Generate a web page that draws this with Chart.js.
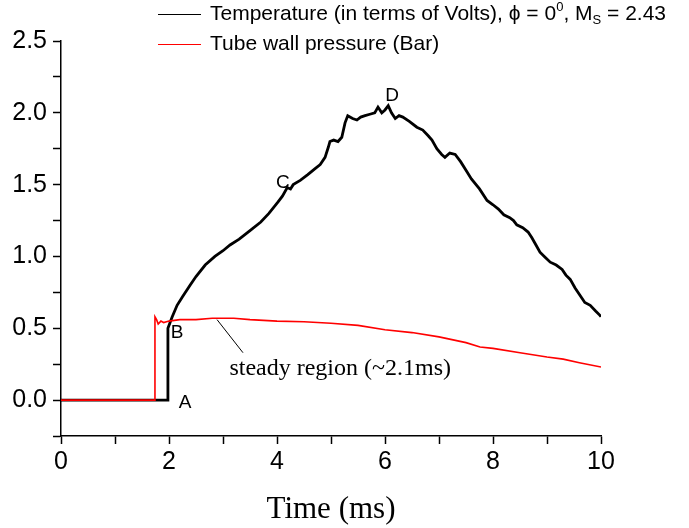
<!DOCTYPE html>
<html>
<head>
<meta charset="utf-8">
<script src="https://cdn.jsdelivr.net/npm/chart.js@4/dist/chart.umd.min.js"></script>
<style>
  html, body { margin: 0; padding: 0; background: #fff; }
  #wrap { width: 689px; height: 528px; }
</style>
</head>
<body>
<div id="wrap"><canvas id="shock" width="689" height="528"></canvas></div>
<script>
// temperature signal (in volts)
const tempTime = [0, 1.98, 1.98, 2.02, 2.06, 2.15, 2.25, 2.39, 2.5, 2.67, 2.85, 3.0, 3.13, 3.3, 3.5, 3.7, 3.85,
  4.02, 4.1, 4.19, 4.25, 4.3, 4.43, 4.57, 4.7, 4.8, 4.89, 4.95, 4.98, 5.05, 5.13, 5.2, 5.26, 5.31, 5.4, 5.48,
  5.55, 5.63, 5.72, 5.81, 5.87, 5.94, 6.0, 6.06, 6.12, 6.19, 6.26, 6.33, 6.45, 6.59, 6.7, 6.8, 6.87, 6.96,
  7.05, 7.11, 7.2, 7.3, 7.4, 7.5, 7.6, 7.75, 7.89, 8.0, 8.1, 8.2, 8.31, 8.38, 8.44, 8.55, 8.65, 8.72, 8.78,
  8.87, 8.95, 9.06, 9.17, 9.28, 9.35, 9.43, 9.52, 9.61, 9.7, 9.8, 9.9, 9.98, 10];
const tempVolts = [0, 0, 0.5, 0.54, 0.58, 0.66, 0.72, 0.8, 0.86, 0.94, 1.0, 1.04, 1.08, 1.12, 1.18, 1.24, 1.3,
  1.38, 1.42, 1.48, 1.47, 1.5, 1.53, 1.57, 1.61, 1.64, 1.69, 1.76, 1.8, 1.81, 1.8, 1.83, 1.93, 1.98, 1.96, 1.95,
  1.97, 1.98, 1.99, 2.0, 2.04, 2.0, 2.02, 2.05, 2.0, 1.96, 1.98, 1.97, 1.94, 1.9, 1.88, 1.84, 1.81, 1.75,
  1.71, 1.69, 1.72, 1.71, 1.66, 1.6, 1.54, 1.47, 1.39, 1.36, 1.33, 1.29, 1.27, 1.25, 1.22, 1.2, 1.17, 1.13, 1.09,
  1.03, 1.0, 0.96, 0.94, 0.91, 0.87, 0.84, 0.78, 0.73, 0.68, 0.66, 0.62, 0.59, 0.58];

// tube wall pressure (bar)
const presTime = [0, 1.74, 1.74, 1.77, 1.8, 1.85, 1.9, 2.0, 2.2, 2.5, 2.8, 3.0, 3.2, 3.5, 4.0, 4.5, 5.0, 5.5,
  6.0, 6.5, 7.0, 7.5, 7.76, 8.0, 8.5, 9.0, 9.3, 9.6, 10];
const presBar = [0, 0, 0.58, 0.56, 0.53, 0.55, 0.54, 0.55, 0.56, 0.56, 0.57, 0.57, 0.57, 0.56, 0.55, 0.545, 0.535, 0.52,
  0.49, 0.47, 0.44, 0.40, 0.37, 0.36, 0.33, 0.30, 0.285, 0.26, 0.23];

// point labels [text, time, value]
const markLabels = [["A", 2.3, -0.02], ["B", 2.15, 0.47], ["C", 4.11, 1.51], ["D", 6.13, 2.12]];
const steadyNote = { text: "steady region (~2.1ms)", x: 5.17, y: 0.22, from: [2.89, 0.56], to: [3.37, 0.33] };

const tickFont = { family: "'Liberation Sans', Arial, sans-serif", size: 25 };
const sansFam = "'Liberation Sans', Arial, sans-serif";

const toPts = (xs, ys) => xs.map((t, i) => ({ x: t, y: ys[i] }));

// draws one row of the legend, pieces may be raised or lowered
function richText(ctx, x, y, parts, size) {
  let cx = x;
  parts.forEach((p) => {
    const s = p.small ? size * 0.62 : size;
    ctx.font = s + "px " + sansFam;
    ctx.fillText(p.t, cx, y + (p.dy || 0));
    cx += ctx.measureText(p.t).width;
  });
}

const annotations = {
  id: "annotations",
  afterDatasetsDraw(chart) {
    const { ctx, scales } = chart;
    const xs = scales.x, ys = scales.y;
    ctx.save();
    ctx.fillStyle = "#000";
    ctx.textAlign = "center";
    ctx.textBaseline = "middle";
    ctx.font = "19px " + sansFam;
    markLabels.forEach(([t, x, y]) => {
      ctx.fillText(t, xs.getPixelForValue(x), ys.getPixelForValue(y));
    });
    ctx.font = "24px 'Liberation Serif', 'Times New Roman', serif";
    ctx.fillText(steadyNote.text, xs.getPixelForValue(steadyNote.x), ys.getPixelForValue(steadyNote.y));
    ctx.strokeStyle = "#000";
    ctx.lineWidth = 1;
    ctx.beginPath();
    ctx.moveTo(xs.getPixelForValue(steadyNote.from[0]), ys.getPixelForValue(steadyNote.from[1]));
    ctx.lineTo(xs.getPixelForValue(steadyNote.to[0]), ys.getPixelForValue(steadyNote.to[1]));
    ctx.stroke();

    // legend, top right
    const rows = [
      { ds: chart.data.datasets[1], y: 14, parts: [
        { t: "Temperature (in terms of Volts), " }, { t: "\u03d5 = 0" }, { t: "0", small: true, dy: -7 },
        { t: ", M" }, { t: "S", small: true, dy: 6 }, { t: " = 2.43" }] },
      { ds: chart.data.datasets[0], y: 44, parts: [{ t: "Tube wall pressure (Bar)" }] },
    ];
    ctx.textAlign = "left";
    rows.forEach((r) => {
      ctx.strokeStyle = r.ds.borderColor;
      ctx.lineWidth = 1.2;
      ctx.beginPath();
      ctx.moveTo(158, r.y + 0.5);
      ctx.lineTo(201, r.y + 0.5);
      ctx.stroke();
      richText(ctx, 210, r.y, r.parts, 21);
    });
    ctx.restore();
  },
};

const chart = new Chart(document.getElementById("shock"), {
  type: "line",
  data: {
    datasets: [
      {
        label: "Tube wall pressure (Bar)",
        data: toPts(presTime, presBar),
        borderColor: "#ff0000",
        borderWidth: 1.6,
        pointRadius: 0,
        tension: 0,
        order: 0,
      },
      {
        label: "Temperature (in terms of Volts)",
        data: toPts(tempTime, tempVolts),
        borderColor: "#000000",
        borderWidth: 2.8,
        pointRadius: 0,
        tension: 0,
        order: 1,
      },
    ],
  },
  options: {
    responsive: false,
    animation: false,
    layout: { padding: { left: 0, right: 88, top: 41, bottom: 0 } },
    plugins: { legend: { display: false }, tooltip: { enabled: false } },
    scales: {
      x: {
        type: "linear",
        min: 0,
        max: 10,
        ticks: {
          stepSize: 1,
          autoSkip: false,
          maxRotation: 0,
          padding: 3,
          color: "#000",
          font: tickFont,
          callback: (v) => (v % 2 === 0 ? String(v) : ""),
        },
        grid: { drawOnChartArea: false, tickLength: 8, tickColor: "#000", tickWidth: 1.5 },
        border: { color: "#000", width: 1.5 },
        title: {
          display: true,
          text: "Time (ms)",
          color: "#000",
          font: { family: "'Liberation Serif', 'Times New Roman', serif", size: 31 },
          padding: { top: 0, bottom: 0 },
        },
        afterFit: (s) => { s.height = 92; },
      },
      y: {
        min: -0.25,
        max: 2.5,
        ticks: {
          stepSize: 0.25,
          autoSkip: false,
          padding: 6,
          color: "#000",
          font: tickFont,
          callback: (v) => (Math.abs(v * 2 - Math.round(v * 2)) < 1e-6 ? v.toFixed(1) : ""),
        },
        grid: { drawOnChartArea: false, tickLength: 8, tickColor: "#000", tickWidth: 1.5 },
        border: { color: "#000", width: 1.5 },
        afterFit: (s) => { s.width = 61; },
      },
    },
  },
  plugins: [annotations],
});
</script>
</body>
</html>
